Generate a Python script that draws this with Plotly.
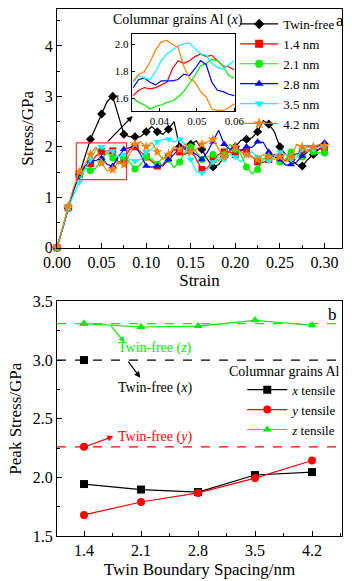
import plotly.graph_objects as go

# ---------------- data: panel a (stress-strain) ----------------
strain = [0.0, 0.00625, 0.0125, 0.01875, 0.025, 0.03125, 0.0375, 0.04375, 0.05, 0.05625,
          0.0625, 0.06875, 0.075, 0.08125, 0.0875, 0.09375, 0.1, 0.10625, 0.1125, 0.11875,
          0.125, 0.13125, 0.1375, 0.14375, 0.15, 0.15625, 0.1625, 0.16875, 0.175, 0.18125,
          0.1875, 0.19375, 0.2, 0.20625, 0.2125, 0.21875, 0.225, 0.23125, 0.2375, 0.24375,
          0.25, 0.25625, 0.2625, 0.26875, 0.275, 0.28125, 0.2875, 0.29375, 0.3]

twin_free = [0, 0.40, 0.79, 1.15, 1.45, 1.80, 2.15, 2.40, 2.65, 2.90,
             3.00, 2.60, 2.25, 2.20, 2.20, 2.20, 2.30, 2.40, 2.30, 2.25,
             2.35, 2.50, 2.00, 1.95, 2.05, 2.12, 1.95, 1.75, 1.60, 1.65,
             1.80, 1.92, 2.00, 2.13, 2.15, 2.18, 2.30, 2.52, 2.45, 2.30,
             2.00, 1.85, 1.75, 1.65, 1.62, 1.75, 1.85, 1.95, 2.05]
s14 = [0, 0.40, 0.79, 1.15, 1.45, 1.62, 1.67, 1.82, 1.91, 1.92,
       1.92, 1.70, 1.75, 1.95, 2.00, 1.90, 1.80, 1.70, 1.62, 1.65,
       1.80, 1.95, 1.90, 1.85, 1.95, 1.75, 1.55, 1.58, 1.75, 1.85,
       1.90, 1.89, 1.85, 1.95, 1.90, 1.80, 1.70, 1.69, 1.75, 1.85,
       1.80, 1.72, 1.80, 1.86, 1.90, 2.02, 1.95, 1.95, 1.98]
s21 = [0, 0.40, 0.80, 1.15, 1.45, 1.58, 1.53, 1.58, 1.75, 1.89,
       1.78, 1.65, 1.80, 1.70, 1.56, 1.65, 1.80, 1.76, 1.65, 1.80,
       1.75, 1.59, 1.70, 1.90, 2.00, 1.90, 1.75, 1.80, 1.85, 1.72,
       1.85, 2.05, 1.95, 1.85, 1.60, 1.47, 1.55, 1.75, 1.85, 1.80,
       1.70, 1.75, 1.90, 1.85, 1.80, 1.95, 1.90, 1.88, 1.88]
s28 = [0, 0.40, 0.80, 1.15, 1.45, 1.62, 1.72, 1.73, 1.78, 1.65,
       1.62, 1.80, 1.95, 1.98, 2.02, 1.85, 1.62, 1.60, 1.62, 1.62,
       1.75, 1.85, 1.98, 2.00, 1.90, 1.85, 1.75, 1.90, 2.10, 2.33,
       2.05, 1.95, 2.00, 1.92, 2.00, 1.99, 2.10, 2.09, 1.90, 1.80,
       1.75, 1.64, 1.65, 1.70, 1.82, 1.90, 1.98, 2.02, 2.08]
s35 = [0, 0.38, 0.78, 1.05, 1.30, 1.55, 1.75, 1.95, 2.00, 1.90,
       1.92, 1.80, 1.85, 1.75, 1.72, 1.75, 1.90, 1.95, 2.10, 2.15,
       2.15, 2.10, 2.15, 2.05, 1.75, 1.50, 1.48, 1.55, 1.70, 1.80,
       1.75, 1.85, 1.80, 1.70, 1.85, 1.90, 1.80, 1.75, 1.72, 1.80,
       1.90, 1.85, 1.75, 1.80, 1.95, 2.00, 1.95, 2.00, 2.00]
s42 = [0, 0.42, 0.82, 1.20, 1.50, 1.65, 1.85, 2.00, 1.68, 1.52,
       1.55, 1.70, 1.65, 1.85, 2.05, 2.10, 2.00, 2.09, 1.90, 1.75,
       1.85, 2.00, 1.95, 2.06, 1.90, 1.95, 2.05, 2.10, 2.15, 1.95,
       1.80, 1.90, 2.00, 1.90, 1.85, 1.79, 1.75, 1.85, 1.80, 1.75,
       1.80, 1.70, 1.80, 2.05, 2.00, 1.90, 2.00, 2.05, 2.02]

# inset (zoomed detail, 0.033-0.060 strain)
inset_strain = [0.033, 0.0345, 0.036, 0.0375, 0.039, 0.0405, 0.042, 0.0435, 0.045, 0.0465,
                0.048, 0.0495, 0.051, 0.0525, 0.054, 0.0555, 0.057, 0.0585, 0.060]
in14 = [1.62, 1.66, 1.68, 1.67, 1.68, 1.70, 1.72, 1.82, 1.88, 1.86,
        1.88, 1.91, 1.93, 1.91, 1.92, 1.88, 1.84, 1.835, 1.81]
in21 = [1.60, 1.57, 1.55, 1.52, 1.54, 1.55, 1.57, 1.58, 1.61, 1.65,
        1.71, 1.77, 1.84, 1.86, 1.89, 1.88, 1.84, 1.77, 1.75]
in28 = [1.68, 1.74, 1.75, 1.72, 1.70, 1.73, 1.73, 1.73, 1.74, 1.78,
        1.77, 1.82, 1.88, 1.85, 1.72, 1.66, 1.65, 1.63, 1.62]
in35 = [1.72, 1.77, 1.75, 1.74, 1.80, 1.88, 1.93, 1.96, 1.99, 2.005,
        2.01, 1.97, 1.93, 1.92, 1.86, 1.83, 1.815, 1.85, 1.88]
in42 = [1.73, 1.78, 1.80, 1.87, 1.96, 2.02, 2.03, 2.00, 1.98, 1.84,
        1.75, 1.72, 1.65, 1.61, 1.52, 1.51, 1.51, 1.53, 1.56]

series_names = ["Twin-free", "1.4 nm", "2.1 nm", "2.8 nm", "3.5 nm", "4.2 nm"]
series_vals = [twin_free, s14, s21, s28, s35, s42]
inset_vals = [None, in14, in21, in28, in35, in42]

# ---------------- data: panel b (peak stress) ----------------
spacing = [1.4, 2.1, 2.8, 3.5, 4.2]
x_tensile = [1.943, 1.896, 1.875, 2.02, 2.045]
y_tensile = [1.68, 1.79, 1.867, 1.994, 2.144]
z_tensile = [3.311, 3.282, 3.29, 3.339, 3.297]
tf_x, tf_y, tf_z = 3.0, 2.26, 3.31

# ---------------- styles ----------------
colors = ["#000000", "#FF0000", "#00EE00", "#0000FF", "#00FFFF", "#FF8000"]
symbols = ["diamond", "square", "circle", "triangle-up", "triangle-down", "star"]
msizes = [7, 7, 7, 7, 7, 8]
FONT = "Liberation Serif, Times New Roman, serif"

fig = go.Figure()

for name, vals, ivals, c, sym, ms in zip(series_names, series_vals, inset_vals, colors, symbols, msizes):
    fig.add_trace(go.Scatter(x=strain, y=vals, mode="lines", line=dict(color=c, width=1.2),
                             showlegend=False, cliponaxis=False, xaxis="x", yaxis="y", hoverinfo="skip"))
    fig.add_trace(go.Scatter(x=strain[::2], y=vals[::2], mode="markers",
                             marker=dict(color=c, symbol=sym, size=ms, line=dict(width=0)),
                             showlegend=False, cliponaxis=False, xaxis="x", yaxis="y"))
    fig.add_trace(go.Scatter(x=[None], y=[None], mode="lines+markers", name=name,
                             line=dict(color=c, width=1.2),
                             marker=dict(color=c, symbol=sym, size=ms + 1, line=dict(width=0)),
                             xaxis="x", yaxis="y", legend="legend"))
    if ivals is not None:
        fig.add_trace(go.Scatter(x=inset_strain, y=ivals, mode="lines", line=dict(color=c, width=1.2),
                                 showlegend=False, xaxis="x2", yaxis="y2"))

# panel b
b_names = ["<i>x</i> tensile", "<i>y</i> tensile", "<i>z</i> tensile"]
b_vals = [x_tensile, y_tensile, z_tensile]
b_cols = ["#000000", "#FF0000", "#00EE00"]
b_syms = ["square", "circle", "triangle-up"]
b_tf = [tf_x, tf_y, tf_z]
for name, vals, c, sym, tf in zip(b_names, b_vals, b_cols, b_syms, b_tf):
    fig.add_trace(go.Scatter(x=spacing, y=vals, mode="lines+markers", name=name,
                             line=dict(color=c, width=1.2),
                             marker=dict(color=c, symbol=sym, size=8, line=dict(width=0)),
                             xaxis="x3", yaxis="y3", legend="legend2", cliponaxis=False))
    fig.add_trace(go.Scatter(x=[spacing[0]], y=[tf], mode="markers",
                             marker=dict(color=c, symbol=sym, size=8, line=dict(width=0)),
                             xaxis="x3", yaxis="y3", showlegend=False, cliponaxis=False))
    fig.add_shape(type="line", xref="x3 domain", yref="y3", x0=0, x1=1, y0=tf, y1=tf,
                  line=dict(color=c, width=1.2, dash="dash"))

axis_common = dict(showgrid=False, zeroline=False, showline=True, linecolor="black", linewidth=1.2,
                   mirror=True, ticks="inside", ticklen=5, tickcolor="black",
                   tickfont=dict(family=FONT, size=16, color="black"))

fig.update_layout(
    width=352, height=581,
    margin=dict(l=57, r=1, t=8, b=45),
    paper_bgcolor="white", plot_bgcolor="white",
    font=dict(family=FONT, color="black"),
    xaxis=dict(domain=[0, 1], anchor="y", range=[0, 0.3196], tickvals=[0, 0.05, 0.1, 0.15, 0.2, 0.25, 0.3],
               tickformat=".2f", minor=dict(dtick=0.025, ticks="inside", ticklen=3, tickcolor="black"),
               title=dict(text="Strain", font=dict(family=FONT, size=17), standoff=2), **axis_common),
    yaxis=dict(domain=[0.547, 1], anchor="x", range=[0, 4.733], tickvals=[0, 1, 2, 3, 4],
               minor=dict(dtick=0.5, ticks="inside", ticklen=3, tickcolor="black"),
               title=dict(text="Stress/GPa", font=dict(family=FONT, size=17), standoff=6), **axis_common),
    xaxis2=dict(domain=[0.262, 0.626], anchor="y2", range=[0.0326, 0.0603], tickvals=[0.04, 0.05, 0.06],
                tickformat=".2f", showgrid=False, zeroline=False, showline=True, linecolor="black",
                linewidth=1, mirror=True, ticks="inside", ticklen=3, tickcolor="black",
                tickfont=dict(family=FONT, size=11, color="black")),
    yaxis2=dict(domain=[0.806, 0.953], anchor="x2", range=[1.504, 2.08], tickvals=[1.6, 1.8, 2.0],
                tickformat=".1f", showgrid=False, zeroline=False, showline=True, linecolor="black",
                linewidth=1, mirror=True, ticks="inside", ticklen=3, tickcolor="black",
                tickfont=dict(family=FONT, size=11, color="black")),
    xaxis3=dict(domain=[0, 1], anchor="y3", range=[1.068, 4.568], tickvals=spacing, tickformat=".1f",
                minor=dict(dtick=0.35, tick0=1.05, ticks="inside", ticklen=3, tickcolor="black"),
                title=dict(text="Twin Boundary Spacing/nm", font=dict(family=FONT, size=17), standoff=4),
                **axis_common),
    yaxis3=dict(domain=[0, 0.4451], anchor="x3", range=[1.5, 3.5], tickvals=[1.5, 2.0, 2.5, 3.0, 3.5],
                tickformat=".1f", minor=dict(dtick=0.25, ticks="inside", ticklen=3, tickcolor="black"),
                title=dict(text="Peak Stress/GPa", font=dict(family=FONT, size=17), standoff=6),
                **axis_common),
    legend=dict(x=0.625, y=1.0, xanchor="left", yanchor="top", bgcolor="rgba(0,0,0,0)",
                font=dict(family=FONT, size=13), itemwidth=38, tracegroupgap=0,
                borderwidth=0),
    legend2=dict(x=0.65, y=0.306, xanchor="left", yanchor="top", bgcolor="rgba(0,0,0,0)",
                 font=dict(family=FONT, size=13), itemwidth=40, borderwidth=0),
)

# red rectangle (zoom region) and arrow to inset
fig.add_shape(type="rect", xref="x", yref="y", x0=0.0217, x1=0.078, y0=1.35, y1=2.08,
              line=dict(color="#FF3333", width=1.2))
fig.add_annotation(xref="x", yref="y", axref="x", ayref="y", x=0.0848, y=2.61, ax=0.0554, ay=2.08,
                   text="", showarrow=True, arrowhead=2, arrowsize=1, arrowwidth=1.2, arrowcolor="black")

fig.add_annotation(xref="paper", yref="paper", x=0.19, y=0.979, xanchor="left", yanchor="middle",
                   text="Columnar grains Al (<i>x</i>)", showarrow=False,
                   font=dict(family=FONT, size=14, color="black"))
fig.add_annotation(xref="paper", yref="paper", x=1.012, y=0.978, xanchor="right", yanchor="middle",
                   text="a", showarrow=False, font=dict(family=FONT, size=17, color="black"),
                   borderpad=0)
fig.add_annotation(xref="paper", yref="paper", x=0.99, y=0.421, xanchor="right", yanchor="middle",
                   text="b", showarrow=False, font=dict(family=FONT, size=17, color="black"))
fig.add_annotation(xref="paper", yref="paper", x=1.0, y=0.313, xanchor="right", yanchor="middle",
                   text="Columnar grains Al", showarrow=False,
                   font=dict(family=FONT, size=14, color="black"))

# panel b annotations
tf_labels = [("Twin-free (<i>z</i>)", "#00EE00", 1.79, 3.10, (1.90, 3.15), (1.72, 3.30)),
             ("Twin-free (<i>x</i>)", "#000000", 1.79, 2.763, (2.09, 2.85), (1.93, 3.0)),
             ("Twin-free (<i>y</i>)", "#FF0000", 1.79, 2.347, (1.76, 2.35), (1.41, 2.26))]
for txt, c, tx, ty, head, tail in tf_labels:
    fig.add_annotation(xref="x3", yref="y3", x=tx, y=ty, xanchor="left", yanchor="middle", text=txt,
                       showarrow=False, font=dict(family=FONT, size=14, color=c))
    fig.add_annotation(xref="x3", yref="y3", axref="x3", ayref="y3", x=head[0], y=head[1],
                       ax=tail[0], ay=tail[1], text="", showarrow=True, arrowhead=2, arrowsize=1,
                       arrowwidth=1.2, arrowcolor=c)

fig.write_html("out.html")
